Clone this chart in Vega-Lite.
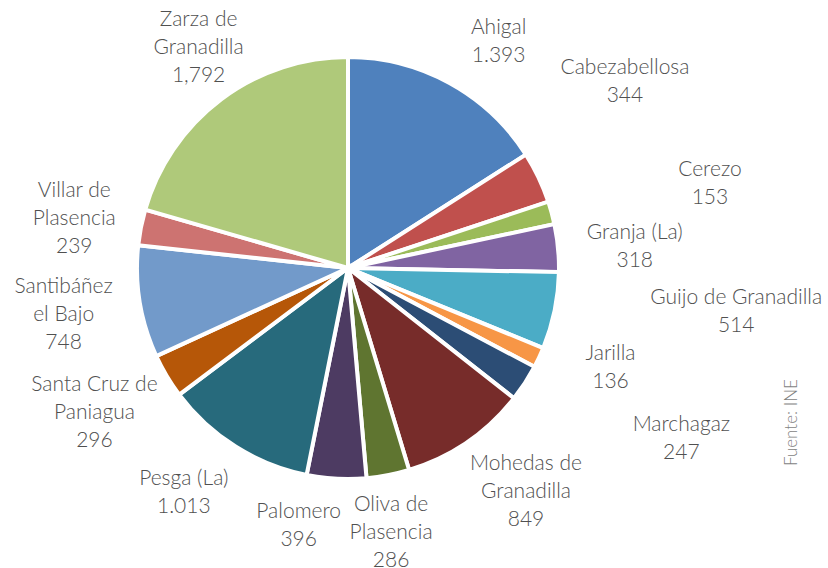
{
  "$schema": "https://vega.github.io/schema/vega-lite/v6.json",
  "width": 696,
  "height": 536,
  "autosize": {"type": "none"},
  "padding": {"left": 0, "top": 0, "right": 132, "bottom": 32},
  "background": "white",
  "title": {
    "text": "Fuente: INE",
    "orient": "right",
    "anchor": "end",
    "frame": "group",
    "align": "left",
    "angle": 270,
    "offset": -55,
    "dx": 70,
    "font": "Lato",
    "fontSize": 17,
    "fontWeight": 300,
    "color": "#7f7f7f"
  },
  "data": {
    "values": [
      {"name": "Ahigal", "value": 1393, "label": "Ahigal\n1.393"},
      {"name": "Cabezabellosa", "value": 344, "label": "Cabezabellosa\n344"},
      {"name": "Cerezo", "value": 153, "label": "Cerezo\n153"},
      {"name": "Granja (La)", "value": 318, "label": "Granja (La)\n318"},
      {"name": "Guijo de Granadilla", "value": 514, "label": "Guijo de Granadilla\n514"},
      {"name": "Jarilla", "value": 136, "label": "Jarilla\n136"},
      {"name": "Marchagaz", "value": 247, "label": "Marchagaz\n247"},
      {"name": "Mohedas de Granadilla", "value": 849, "label": "Mohedas de\nGranadilla\n849"},
      {"name": "Oliva de Plasencia", "value": 286, "label": "Oliva de\nPlasencia\n286"},
      {"name": "Palomero", "value": 396, "label": "Palomero\n396"},
      {"name": "Pesga (La)", "value": 1013, "label": "Pesga (La)\n1.013"},
      {"name": "Santa Cruz de Paniagua", "value": 296, "label": "Santa Cruz de\nPaniagua\n296"},
      {"name": "Santibáñez el Bajo", "value": 748, "label": "Santibáñez\nel Bajo\n748"},
      {"name": "Villar de Plasencia", "value": 239, "label": "Villar de\nPlasencia\n239"},
      {"name": "Zarza de Granadilla", "value": 1792, "label": "Zarza de\nGranadilla\n1,792"}
    ]
  },
  "encoding": {
    "theta": {"field": "value", "type": "quantitative", "stack": true},
    "order": {"field": "name", "type": "nominal", "sort": "ascending"},
    "detail": {"field": "name", "type": "nominal"}
  },
  "layer": [
    {
      "mark": {"type": "arc", "outerRadius": 211, "stroke": "white", "strokeWidth": 4},
      "encoding": {
        "color": {
          "field": "name",
          "type": "nominal",
          "legend": null,
          "scale": {
            "domain": ["Ahigal", "Cabezabellosa", "Cerezo", "Granja (La)", "Guijo de Granadilla", "Jarilla", "Marchagaz", "Mohedas de Granadilla", "Oliva de Plasencia", "Palomero", "Pesga (La)", "Santa Cruz de Paniagua", "Santibáñez el Bajo", "Villar de Plasencia", "Zarza de Granadilla"],
            "range": ["#4F81BD", "#C0504D", "#9BBB59", "#8064A2", "#4BACC6", "#F79646", "#2C4D75", "#772C2A", "#5F7530", "#4D3B62", "#276A7C", "#B65708", "#729ACA", "#CD7371", "#AFC97A"]
          }
        }
      }
    },
    {"mark": {"type": "text", "radius": 280, "dx": 16, "dy": 6}, "encoding": {"text": {"field": "label"}, "opacity": {"condition": {"test": "datum.name === 'Ahigal'", "value": 1}, "value": 0}}},
    {"mark": {"type": "text", "radius": 300, "dx": 6, "dy": -71}, "encoding": {"text": {"field": "label"}, "opacity": {"condition": {"test": "datum.name === 'Cabezabellosa'", "value": 1}, "value": 0}}},
    {"mark": {"type": "text", "radius": 375, "dx": 0, "dy": 0}, "encoding": {"text": {"field": "label"}, "opacity": {"condition": {"test": "datum.name === 'Cerezo'", "value": 1}, "value": 0}}},
    {"mark": {"type": "text", "radius": 280, "dx": 8, "dy": -8}, "encoding": {"text": {"field": "label"}, "opacity": {"condition": {"test": "datum.name === 'Granja (La)'", "value": 1}, "value": 0}}},
    {"mark": {"type": "text", "radius": 375, "dx": 21, "dy": -46}, "encoding": {"text": {"field": "label"}, "opacity": {"condition": {"test": "datum.name === 'Guijo de Granadilla'", "value": 1}, "value": 0}}},
    {"mark": {"type": "text", "radius": 280, "dx": 9, "dy": -33}, "encoding": {"text": {"field": "label"}, "opacity": {"condition": {"test": "datum.name === 'Jarilla'", "value": 1}, "value": 0}}},
    {"mark": {"type": "text", "radius": 375, "dx": 19, "dy": -47}, "encoding": {"text": {"field": "label"}, "opacity": {"condition": {"test": "datum.name === 'Marchagaz'", "value": 1}, "value": 0}}},
    {"mark": {"type": "text", "radius": 280, "dx": 20, "dy": -35}, "encoding": {"text": {"field": "label"}, "opacity": {"condition": {"test": "datum.name === 'Mohedas de Granadilla'", "value": 1}, "value": 0}}},
    {"mark": {"type": "text", "radius": 280, "dx": -10, "dy": -38}, "encoding": {"text": {"field": "label"}, "opacity": {"condition": {"test": "datum.name === 'Oliva de Plasencia'", "value": 1}, "value": 0}}},
    {"mark": {"type": "text", "radius": 280, "dx": -34, "dy": -36}, "encoding": {"text": {"field": "label"}, "opacity": {"condition": {"test": "datum.name === 'Palomero'", "value": 1}, "value": 0}}},
    {"mark": {"type": "text", "radius": 280, "dx": -15, "dy": -26}, "encoding": {"text": {"field": "label"}, "opacity": {"condition": {"test": "datum.name === 'Pesga (La)'", "value": 1}, "value": 0}}},
    {"mark": {"type": "text", "radius": 280, "dx": -13, "dy": -26}, "encoding": {"text": {"field": "label"}, "opacity": {"condition": {"test": "datum.name === 'Santa Cruz de Paniagua'", "value": 1}, "value": 0}}},
    {"mark": {"type": "text", "radius": 280, "dx": -8, "dy": -26}, "encoding": {"text": {"field": "label"}, "opacity": {"condition": {"test": "datum.name === 'Santibáñez el Bajo'", "value": 1}, "value": 0}}},
    {"mark": {"type": "text", "radius": 280, "dx": 1, "dy": -23}, "encoding": {"text": {"field": "label"}, "opacity": {"condition": {"test": "datum.name === 'Villar de Plasencia'", "value": 1}, "value": 0}}},
    {"mark": {"type": "text", "radius": 280, "dx": 19, "dy": -24}, "encoding": {"text": {"field": "label"}, "opacity": {"condition": {"test": "datum.name === 'Zarza de Granadilla'", "value": 1}, "value": 0}}}
  ],
  "config": {
    "view": {"stroke": null},
    "text": {"font": "Lato", "fontSize": 21, "fontWeight": 300, "lineHeight": 28, "lineBreak": "\n", "fill": "#505050", "align": "center", "baseline": "middle"}
  }
}
